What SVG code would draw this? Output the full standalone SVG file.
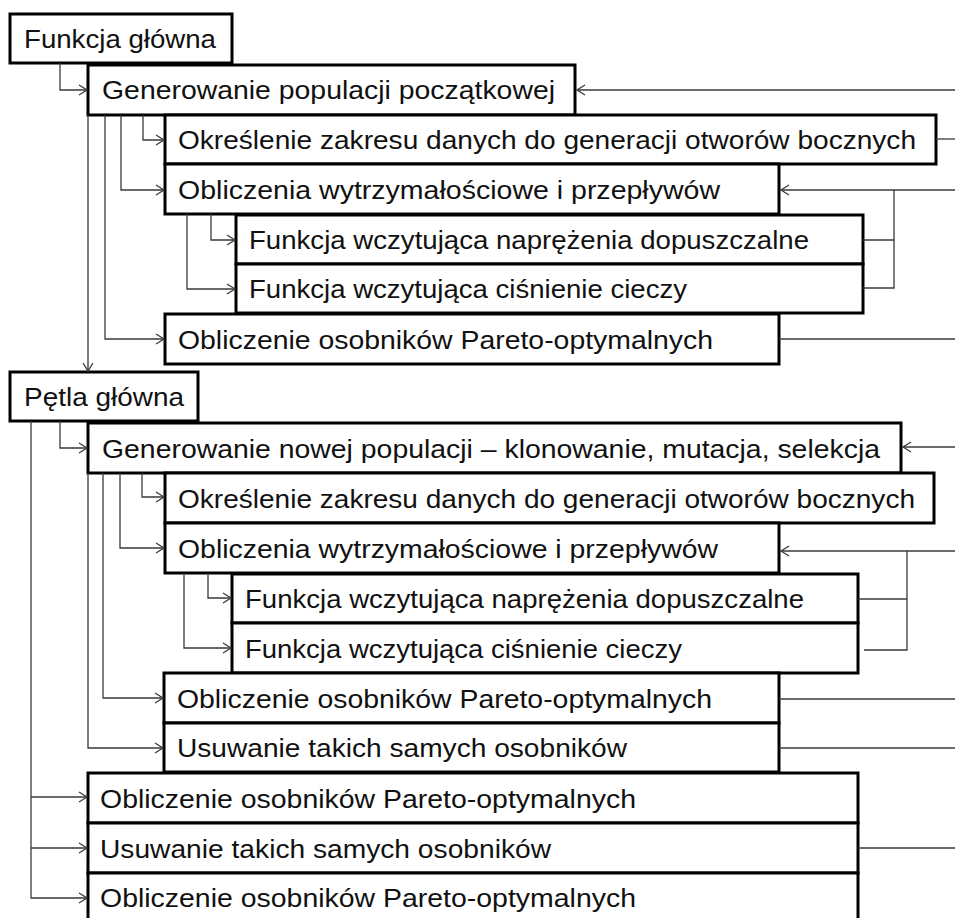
<svg xmlns="http://www.w3.org/2000/svg" width="955" height="918" viewBox="0 0 955 918">
<defs>
<style>
.box rect{fill:#fff;stroke:#000;stroke-width:3}
.box text{font-family:"Liberation Sans",Arial,sans-serif;font-size:25.5px;fill:#111}
.conn path{fill:none;stroke:#3a3a3a;stroke-width:1.3}
</style>
<marker id="ar" markerUnits="userSpaceOnUse" markerWidth="12" markerHeight="12" refX="9" refY="6" orient="auto">
<path d="M1,1 L9,6 L1,11" fill="none" stroke="#3a3a3a" stroke-width="1.3"/>
</marker>
</defs>
<rect width="955" height="918" fill="#fff"/>

<g id="n1" class="box"><rect x="10" y="14" width="222" height="49"/><text x="24" y="48" textLength="192" lengthAdjust="spacingAndGlyphs">Funkcja główna</text></g>
<g id="n2" class="box"><rect x="88" y="65" width="487" height="50"/><text x="102" y="99" textLength="453" lengthAdjust="spacingAndGlyphs">Generowanie populacji początkowej</text></g>
<g id="n3" class="box"><rect x="165" y="115" width="771" height="49"/><text x="178" y="149" textLength="738" lengthAdjust="spacingAndGlyphs">Określenie zakresu danych do generacji otworów bocznych</text></g>
<g id="n4" class="box"><rect x="165" y="164" width="614" height="50"/><text x="178" y="199" textLength="542" lengthAdjust="spacingAndGlyphs">Obliczenia wytrzymałościowe i przepływów</text></g>
<g id="n5" class="box"><rect x="236" y="215" width="627" height="49"/><text x="249" y="249" textLength="560" lengthAdjust="spacingAndGlyphs">Funkcja wczytująca naprężenia dopuszczalne</text></g>
<g id="n6" class="box"><rect x="236" y="264" width="627" height="49"/><text x="249" y="298" textLength="438" lengthAdjust="spacingAndGlyphs">Funkcja wczytująca ciśnienie cieczy</text></g>
<g id="n7" class="box"><rect x="165" y="314" width="614" height="50"/><text x="178" y="349" textLength="535" lengthAdjust="spacingAndGlyphs">Obliczenie osobników Pareto-optymalnych</text></g>
<g id="n8" class="box"><rect x="10" y="372" width="188" height="49"/><text x="24" y="406" textLength="160" lengthAdjust="spacingAndGlyphs">Pętla główna</text></g>
<g id="n9" class="box"><rect x="88" y="423" width="813" height="50"/><text x="102" y="458" textLength="778" lengthAdjust="spacingAndGlyphs">Generowanie nowej populacji – klonowanie, mutacja, selekcja</text></g>
<g id="n10" class="box"><rect x="165" y="473" width="769" height="50"/><text x="178" y="508" textLength="737" lengthAdjust="spacingAndGlyphs">Określenie zakresu danych do generacji otworów bocznych</text></g>
<g id="n11" class="box"><rect x="165" y="523" width="614" height="50"/><text x="178" y="558" textLength="540" lengthAdjust="spacingAndGlyphs">Obliczenia wytrzymałościowe i przepływów</text></g>
<g id="n12" class="box"><rect x="232" y="574" width="626" height="49"/><text x="245" y="608" textLength="559" lengthAdjust="spacingAndGlyphs">Funkcja wczytująca naprężenia dopuszczalne</text></g>
<g id="n13" class="box"><rect x="232" y="623" width="626" height="50"/><text x="245" y="658" textLength="437" lengthAdjust="spacingAndGlyphs">Funkcja wczytująca ciśnienie cieczy</text></g>
<g id="n14" class="box"><rect x="164" y="673" width="615" height="50"/><text x="177" y="708" textLength="535" lengthAdjust="spacingAndGlyphs">Obliczenie osobników Pareto-optymalnych</text></g>
<g id="n15" class="box"><rect x="164" y="723" width="615" height="49"/><text x="177" y="757" textLength="450" lengthAdjust="spacingAndGlyphs">Usuwanie takich samych osobników</text></g>
<g id="n16" class="box"><rect x="88" y="773" width="770" height="50"/><text x="100" y="808" textLength="536" lengthAdjust="spacingAndGlyphs">Obliczenie osobników Pareto-optymalnych</text></g>
<g id="n17" class="box"><rect x="88" y="823" width="770" height="50"/><text x="100" y="858" textLength="451" lengthAdjust="spacingAndGlyphs">Usuwanie takich samych osobników</text></g>
<g id="n18" class="box"><rect x="88" y="873" width="770" height="50"/><text x="100" y="907" textLength="536" lengthAdjust="spacingAndGlyphs">Obliczenie osobników Pareto-optymalnych</text></g>

<g id="connectors" class="conn">
<path d="M60,63 V90 H87" marker-end="url(#ar)"/>
<path d="M143,115 V140 H164" marker-end="url(#ar)"/>
<path d="M121,115 V190 H164" marker-end="url(#ar)"/>
<path d="M105,115 V339 H164" marker-end="url(#ar)"/>
<path d="M88,115 V371" marker-end="url(#ar)"/>
<path d="M211,214 V240 H235" marker-end="url(#ar)"/>
<path d="M187,214 V289 H235" marker-end="url(#ar)"/>
<path d="M955,90 H577" marker-end="url(#ar)"/>
<path d="M936,139 H955"/>
<path d="M955,190 H781" marker-end="url(#ar)"/>
<path d="M863,240 H894 M863,288 H894 V190"/>
<path d="M779,339 H955"/>

<path d="M31,421 V898 H87" marker-end="url(#ar)"/>
<path d="M31,797 H87" marker-end="url(#ar)"/>
<path d="M31,848 H87" marker-end="url(#ar)"/>
<path d="M60,421 V448 H87" marker-end="url(#ar)"/>
<path d="M142,473 V497 H164" marker-end="url(#ar)"/>
<path d="M120,473 V548 H164" marker-end="url(#ar)"/>
<path d="M103,473 V698 H163" marker-end="url(#ar)"/>
<path d="M88,473 V748 H163" marker-end="url(#ar)"/>
<path d="M208,573 V598 H231" marker-end="url(#ar)"/>
<path d="M184,573 V648 H231" marker-end="url(#ar)"/>
<path d="M955,447 H903" marker-end="url(#ar)"/>
<path d="M955,551 H781" marker-end="url(#ar)"/>
<path d="M858,599 H907 M864,650 H907 V551"/>
<path d="M779,699 H955"/>
<path d="M779,748 H955"/>
<path d="M858,848 H955"/>
</g>
</svg>
